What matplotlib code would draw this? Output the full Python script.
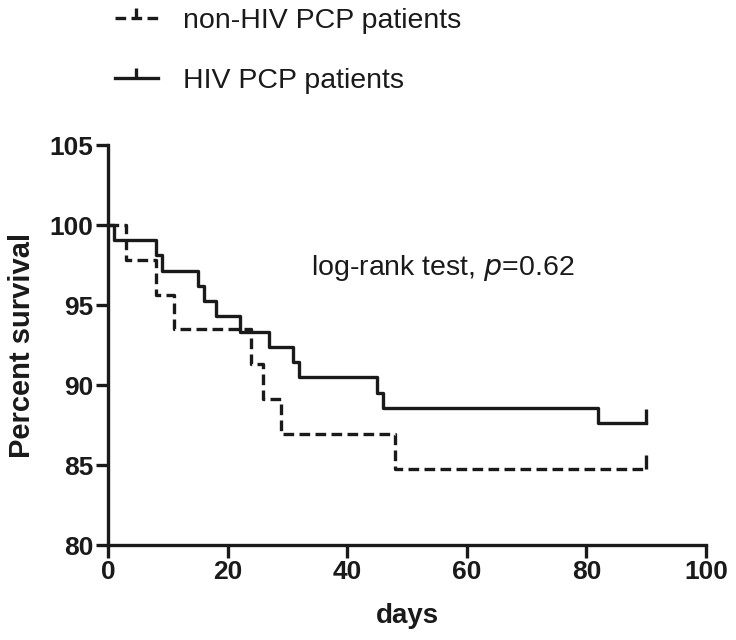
import matplotlib
matplotlib.use("Agg")
import matplotlib.pyplot as plt

plt.rcParams["font.family"] = ["Liberation Sans", "DejaVu Sans"]

# Kaplan-Meier steps
hiv_days = [0, 1, 8, 9, 15, 16, 18, 22, 27, 31, 32, 45, 46, 82, 90]
hiv_surv = [100, 99.05, 98.10, 97.14, 96.19, 95.24, 94.29, 93.33, 92.38,
            91.43, 90.48, 89.52, 88.57, 87.62, 87.62]

non_days = [0, 3, 8, 11, 24, 26, 29, 48, 90]
non_surv = [100, 97.83, 95.65, 93.48, 91.30, 89.13, 86.96, 84.78, 84.78]

# censored observations (end of follow-up)
hiv_cens_day, hiv_cens_surv = [90], [87.62]
non_cens_day, non_cens_surv = [90], [84.78]

labels = ["non-HIV PCP patients", "HIV PCP patients"]

ink = "#1a1a1a"
fig = plt.figure(figsize=(7.36, 6.4), dpi=100)
ax = fig.add_axes([0.1467, 0.1484, 0.8125, 0.625])

lw = 2.4
dash = (0, (3.2, 1.6))
ax.step(non_days, non_surv, where="post", color=ink, lw=lw, linestyle=dash)
ax.step(hiv_days, hiv_surv, where="post", color=ink, lw=lw)

ax.plot(non_cens_day, non_cens_surv, linestyle="none", marker=2,
        markersize=10, markeredgewidth=lw, color=ink)
ax.plot(hiv_cens_day, hiv_cens_surv, linestyle="none", marker=2,
        markersize=10, markeredgewidth=lw, color=ink)

ax.set_xlim(0, 100)
ax.set_ylim(80, 105)
ax.set_xticks(range(0, 101, 20))
ax.set_yticks(range(80, 106, 5))

for s in ["top", "right"]:
    ax.spines[s].set_visible(False)
for s in ["left", "bottom"]:
    ax.spines[s].set_linewidth(2.4)
    ax.spines[s].set_color(ink)

ax.tick_params(width=2.4, length=9, colors=ink, labelsize=19, pad=1.5)
for t in ax.get_xticklabels() + ax.get_yticklabels():
    t.set_fontweight("bold")

ax.set_xlabel("days", fontsize=20, fontweight="bold", labelpad=14, color=ink)
ax.set_ylabel("Percent survival", fontsize=21, fontweight="bold",
              labelpad=10, color=ink)

ax.text(34, 97.3, "log-rank test, $\\it{p}$=0.62", fontsize=20.5,
        va="center", ha="left", color=ink)

# legend handles with censor tick in the middle
h1, = ax.plot([], [], color=ink, lw=lw, linestyle=dash,
              marker=2, markersize=7, markeredgewidth=lw)
h2, = ax.plot([], [], color=ink, lw=lw, marker=2, markersize=7,
              markeredgewidth=lw)
fig.legend([h1, h2], labels, loc="upper left", bbox_to_anchor=(0.156, 0.988),
           frameon=False, fontsize=20.5, handlelength=1.5, handletextpad=0.9,
           labelspacing=1.2, numpoints=1, labelcolor=ink,
           borderpad=0, borderaxespad=0)

fig.savefig("out.png", dpi=100)
